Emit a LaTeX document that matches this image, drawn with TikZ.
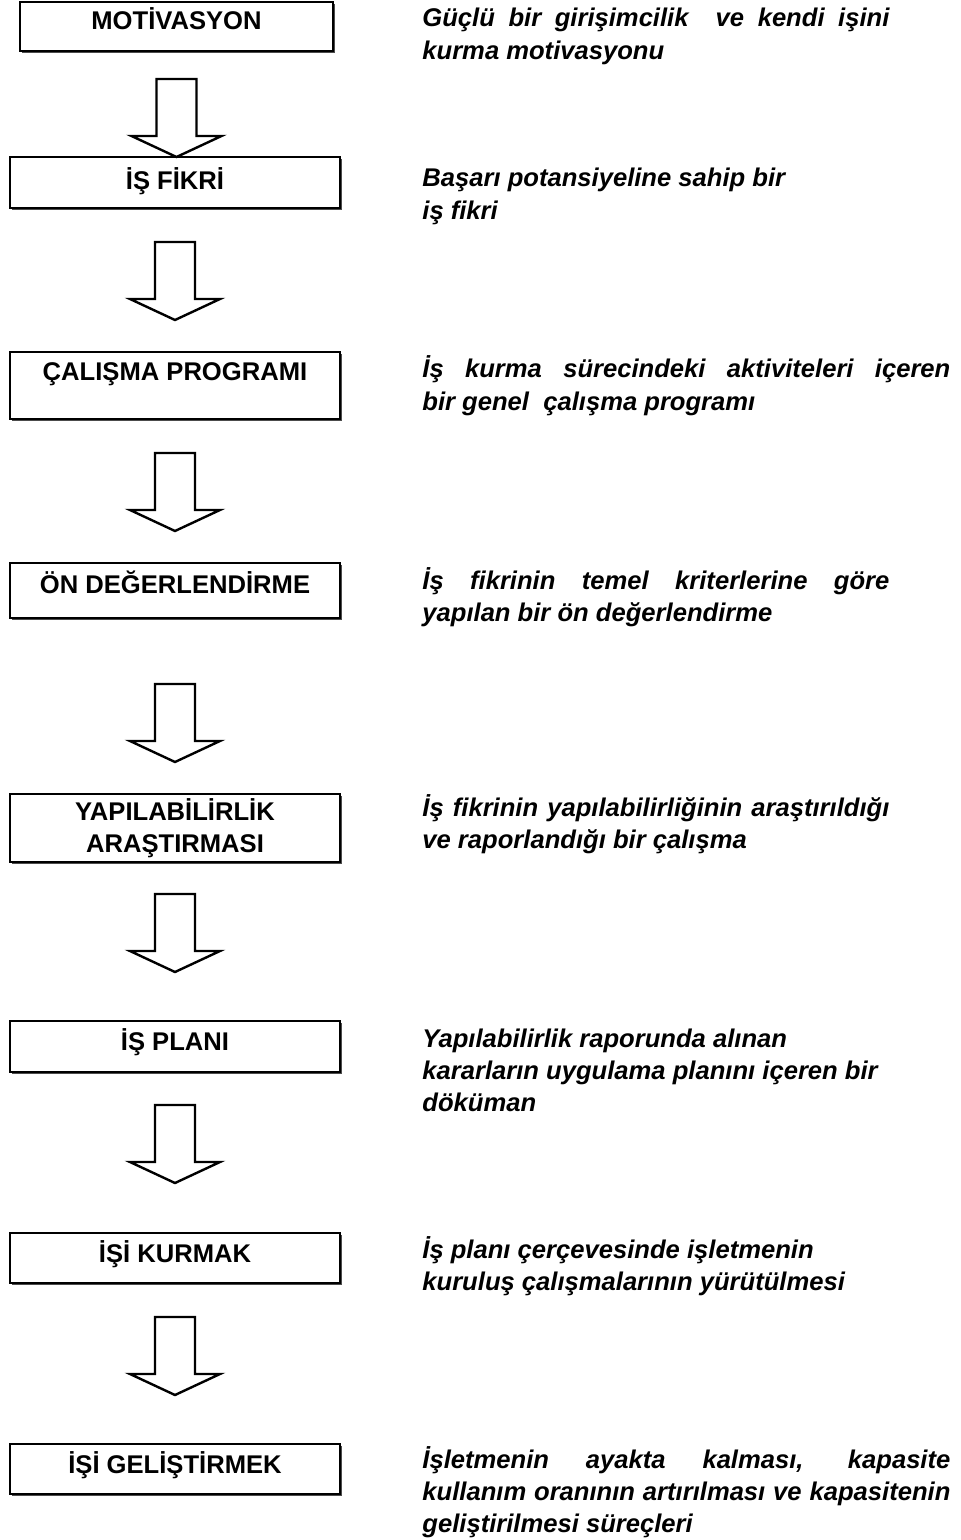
\documentclass[tikz,border=0pt]{standalone}
\usepackage{fontspec}
\setmainfont{Liberation Sans}
\usetikzlibrary{calc,shadows}
\newlength\wa \setlength\wa{233.5pt}
\newlength\wb \setlength\wb{264pt}
\newcommand\jline[1]{\makebox[\linewidth][s]{#1}}
\begin{document}
\begin{tikzpicture}[x=0.5pt,y=-0.5pt,
  box/.style={draw, line width=1pt, fill=white, rectangle, inner sep=0pt,
    anchor=north west, minimum width=165pt,
    drop shadow={shadow xshift=0.8pt, shadow yshift=-0.8pt, opacity=1, fill=black!70}},
  lab/.style={anchor=base, inner sep=0pt, font=\bfseries\fontsize{12.8}{17}\selectfont},
  desc/.style={anchor=base west, inner sep=0pt, font=\bfseries\itshape\fontsize{12.8}{16.2}\selectfont},
  arrowline/.style={draw, line width=1.2pt, line join=miter, fill=white},
  blockarrow/.pic={\path[arrowline] (-20,0) -- (20,0) -- (20,57) -- (45,57) -- (0,78) -- (-45,57) -- (-20,57) -- cycle;}
]
\useasboundingbox (0,0) rectangle (961,1540);

% boxes
\node[box, minimum width=156.5pt, minimum height=24.5pt] (b1) at (19,1) {};
\node[box, minimum height=25.5pt] (b2) at (9,156) {};
\node[box, minimum height=33.5pt] (b3) at (9,351) {};
\node[box, minimum height=27.5pt] (b4) at (9,562) {};
\node[box, minimum height=34pt] (b5) at (9,793) {};
\node[box, minimum height=25.5pt] (b6) at (9,1020) {};
\node[box, minimum height=25pt] (b7) at (9,1232) {};
\node[box, minimum height=25pt] (b8) at (9,1443) {};

% labels
\node[lab] (l1) at ($(b1.north)+(0,29)$) {MOTİVASYON};
\node[lab] (l2) at ($(b2.north)+(0,34)$) {İŞ FİKRİ};
\node[lab] (l3) at ($(b3.north)+(0,29)$) {ÇALIŞMA PROGRAMI};
\node[lab] (l4) at ($(b4.north)+(0,31)$) {ÖN DEĞERLENDİRME};
\node[lab] (l5a) at ($(b5.north)+(0,27)$) {YAPILABİLİRLİK};
\node[lab] (l5b) at ($(b5.north)+(0,59)$) {ARAŞTIRMASI};
\node[lab] (l6) at ($(b6.north)+(0,30)$) {İŞ PLANI};
\node[lab] (l7) at ($(b7.north)+(0,30)$) {İŞİ KURMAK};
\node[lab] (l8) at ($(b8.north)+(0,30)$) {İŞİ GELİŞTİRMEK};

% block arrows
\pic at ($(b1.south)+(0,27)$) {blockarrow};
\pic at ($(b2.south)+(0,33)$) {blockarrow};
\pic at ($(b3.south)+(0,33)$) {blockarrow};
\pic at ($(b4.south)+(0,65)$) {blockarrow};
\pic at ($(b5.south)+(0,31)$) {blockarrow};
\pic at ($(b6.south)+(0,32)$) {blockarrow};
\pic at ($(b7.south)+(0,33)$) {blockarrow};

% descriptions
\node[desc] (d1) at (422,27) {\parbox[t]{\wa}{\jline{Güçlü bir girişimcilik\ \ ve kendi işini}\\kurma motivasyonu}};
\node[desc] (d2) at (422,187) {\parbox[t]{\wb}{Başarı potansiyeline sahip bir\\iş fikri}};
\node[desc] (d3) at (422,378) {\parbox[t]{\wb}{\jline{İş kurma sürecindeki aktiviteleri içeren}\\bir genel\ \ çalışma programı}};
\node[desc] (d4) at (422,589) {\parbox[t]{\wa}{\jline{İş fikrinin temel kriterlerine göre}\\yapılan bir ön değerlendirme}};
\node[desc] (d5) at (422,816) {\parbox[t]{\wa}{\jline{İş fikrinin yapılabilirliğinin araştırıldığı}\\ve raporlandığı bir çalışma}};
\node[desc] (d6) at (422,1047) {\parbox[t]{\wb}{Yapılabilirlik raporunda alınan\\kararların uygulama planını içeren bir\\döküman}};
\node[desc] (d7) at (422,1258) {\parbox[t]{\wb}{İş planı çerçevesinde işletmenin\\kuruluş çalışmalarının yürütülmesi}};
\node[desc] (d8) at (422,1468) {\parbox[t]{\wb}{\jline{İşletmenin ayakta kalması, kapasite}\\\jline{kullanım oranının artırılması ve kapasitenin}\\geliştirilmesi süreçleri}};
\end{tikzpicture}
\end{document}
